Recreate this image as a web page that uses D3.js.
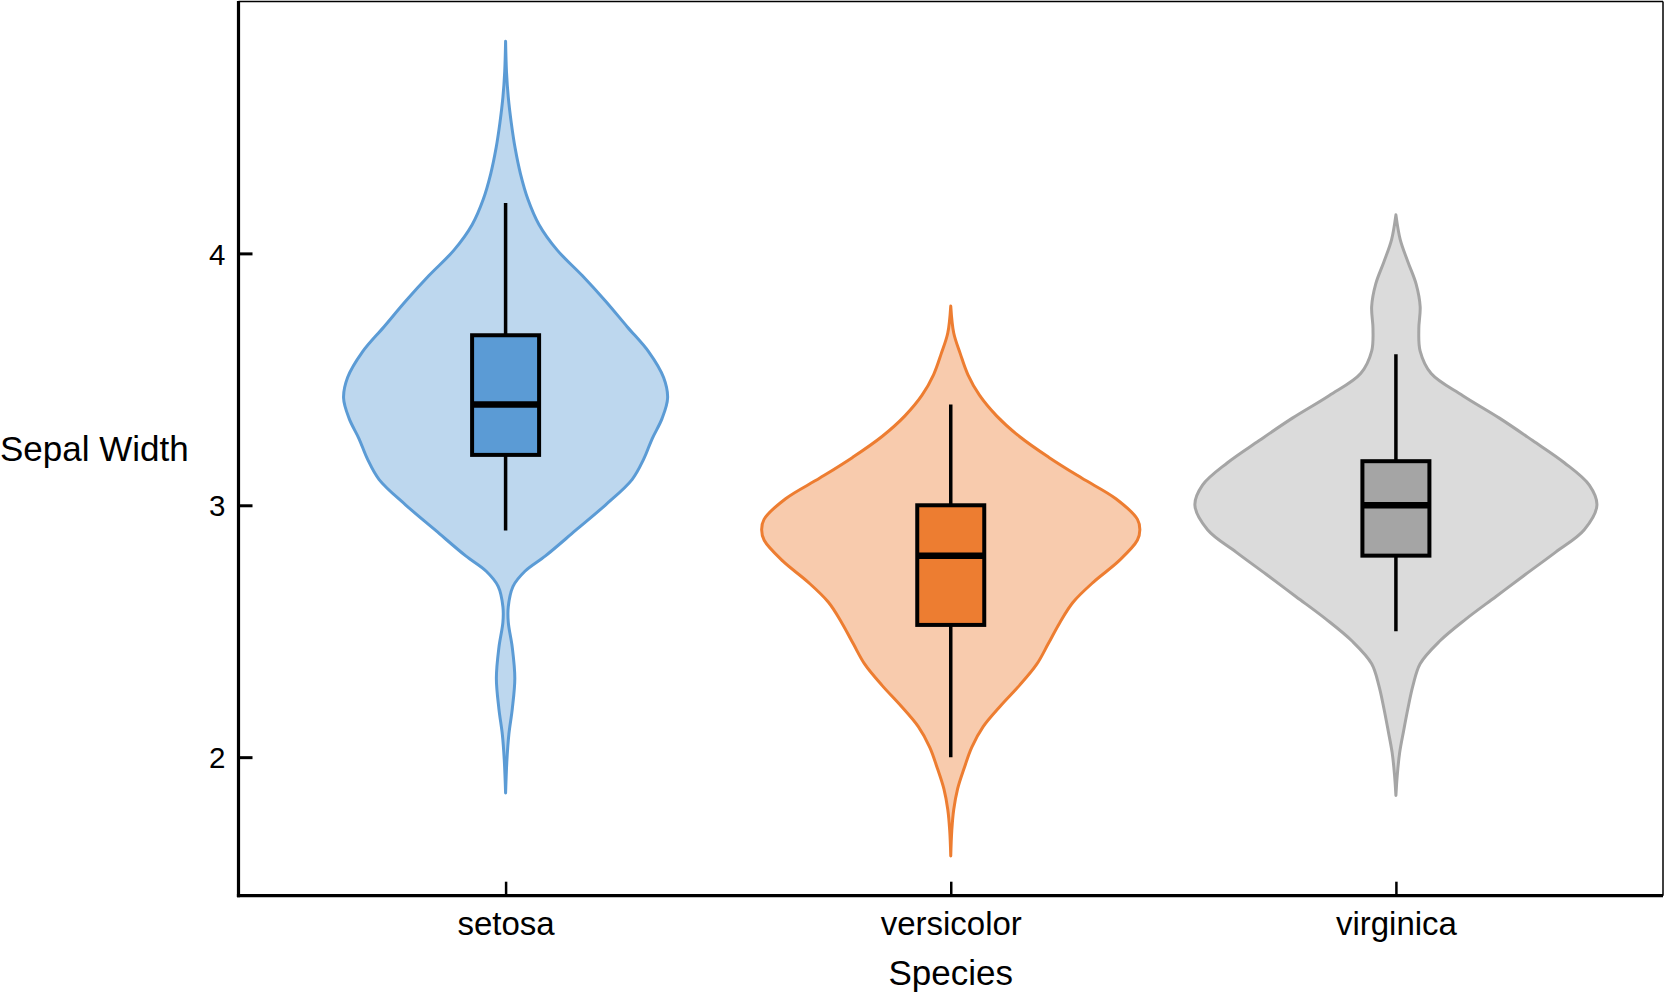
<!DOCTYPE html>
<html>
<head>
<meta charset="utf-8">
<script src="https://cdn.jsdelivr.net/npm/d3@7"></script>
<style>
  html, body { margin: 0; padding: 0; background: #fff; }
  svg { display: block; font-family: "Liberation Sans", Arial, Helvetica, sans-serif; }
</style>
</head>
<body>
<svg id="chart" width="1665" height="994"></svg>
<script>
// ---------------- data ----------------
const categories = ["setosa", "versicolor", "virginica"];
const yTicks = [2, 3, 4];
const yDomain = [1.45, 5.0];
const xTitle = "Species";
const yTitle = "Sepal Width";

// box-plot statistics: [whiskerLow, Q1, median, Q3, whiskerHigh]
const setosaBox     = [2.9, 3.2, 3.4, 3.675, 4.2];
const versicolorBox = [2.0, 2.525, 2.8, 3.0, 3.4];
const virginicaBox  = [2.5, 2.8, 3.0, 3.175, 3.6];

// violin density profiles: [value, density]
const setosaDensity = [
  [4.842,0],[4.721,0.006],[4.620,0.018],[4.519,0.038],[4.418,0.064],[4.316,0.100],
  [4.215,0.150],[4.114,0.225],[4.013,0.347],[3.912,0.515],[3.811,0.671],[3.709,0.817],
  [3.609,0.962],[3.507,1.062],[3.426,1.089],[3.345,1.052],[3.264,0.985],[3.183,0.928],
  [3.102,0.850],[3.001,0.671],[2.900,0.470],[2.799,0.268],[2.738,0.130],[2.678,0.050],
  [2.597,0.018],[2.536,0.018],[2.435,0.045],[2.313,0.062],[2.192,0.045],[2.091,0.022],
  [1.990,0.009],[1.858,0]
];
const versicolorDensity = [
  [3.791,0],[3.684,0.020],[3.602,0.064],[3.519,0.115],[3.437,0.193],[3.355,0.308],
  [3.273,0.462],[3.190,0.660],[3.108,0.880],[3.026,1.110],[2.944,1.255],[2.903,1.271],
  [2.861,1.254],[2.779,1.130],[2.697,0.963],[2.615,0.822],[2.533,0.732],[2.450,0.655],
  [2.368,0.577],[2.285,0.462],[2.203,0.334],[2.121,0.218],[2.039,0.141],[1.956,0.090],
  [1.874,0.046],[1.792,0.020],[1.709,0.007],[1.608,0]
];
const virginicaDensity = [
  [4.153,0],[4.055,0.029],[3.966,0.081],[3.878,0.136],[3.789,0.163],[3.701,0.154],
  [3.612,0.163],[3.523,0.237],[3.435,0.450],[3.346,0.696],[3.257,0.919],[3.169,1.132],
  [3.080,1.300],[3.000,1.351],[2.903,1.266],[2.814,1.074],[2.726,0.872],[2.637,0.671],
  [2.548,0.470],[2.460,0.293],[2.371,0.163],[2.283,0.114],[2.194,0.081],[2.105,0.052],
  [2.017,0.025],[1.928,0.009],[1.848,0]
];

const boxes = [setosaBox, versicolorBox, virginicaBox];
const densities = [setosaDensity, versicolorDensity, virginicaDensity];
const lineColors = ["#5b9bd5", "#ed7d31", "#a5a5a5"];
const fillColors = ["#bdd7ee", "#f8cbad", "#dbdbdb"];

// ---------------- layout ----------------
const svg = d3.select("#chart");
const L = 238.5, R = 1663, T = 1.5, B = 895.7;

const x = d3.scalePoint().domain(categories).range([L, R]).padding(0.6);
const y = d3.scaleLinear().domain(yDomain).range([B, T]);
const maxDens = d3.max(densities.flat(), d => d[1]);
const w = d3.scaleLinear().domain([0, maxDens]).range([0, 201]);

// frame (thin top/right)
svg.append("line").attr("x1", L).attr("x2", R).attr("y1", T).attr("y2", T)
  .attr("stroke", "#000").attr("stroke-width", 1.5);
svg.append("line").attr("x1", R).attr("x2", R).attr("y1", T).attr("y2", B)
  .attr("stroke", "#000").attr("stroke-width", 1.5);

// violins
const plot = svg.append("g");
categories.forEach((c, i) => {
  const cx = x(c);
  const area = d3.area()
    .y(d => y(d[0]))
    .x0(d => cx - w(d[1]))
    .x1(d => cx + w(d[1]))
    .curve(d3.curveCatmullRom.alpha(0.5));
  plot.append("path")
    .datum(densities[i])
    .attr("d", area)
    .attr("fill", fillColors[i])
    .attr("stroke", lineColors[i])
    .attr("stroke-width", 3)
    .attr("stroke-linejoin", "round");

  const b = boxes[i];
  const bw = 67;
  plot.append("line")
    .attr("x1", cx).attr("x2", cx)
    .attr("y1", y(b[0])).attr("y2", y(b[4]))
    .attr("stroke", "#000").attr("stroke-width", 3.5);
  plot.append("rect")
    .attr("x", cx - bw / 2).attr("width", bw)
    .attr("y", y(b[3])).attr("height", y(b[1]) - y(b[3]))
    .attr("fill", lineColors[i])
    .attr("stroke", "#000").attr("stroke-width", 4);
  plot.append("line")
    .attr("x1", cx - bw / 2).attr("x2", cx + bw / 2)
    .attr("y1", y(b[2])).attr("y2", y(b[2]))
    .attr("stroke", "#000").attr("stroke-width", 6.5);
});

// y axis
const yAxis = svg.append("g")
  .attr("transform", `translate(${L},0)`)
  .call(d3.axisLeft(y).tickValues(yTicks).tickFormat(d3.format("d")).tickSize(-14).tickPadding(13));
yAxis.select(".domain").remove();
yAxis.append("line").attr("x1", 0).attr("x2", 0).attr("y1", T - 0.5).attr("y2", B + 1.5)
  .attr("stroke", "#000").attr("stroke-width", 3.2);
yAxis.selectAll(".tick line").attr("stroke", "#000").attr("stroke-width", 3);
yAxis.selectAll(".tick text")
  .attr("fill", "#000").attr("font-size", 29.5)
  .attr("font-family", "'Liberation Sans', Arial, sans-serif")
  .attr("dy", "0.36em");

// x axis
const xAxis = svg.append("g")
  .attr("transform", `translate(0,${B})`)
  .call(d3.axisBottom(x).tickSize(-14).tickPadding(0));
xAxis.select(".domain").remove();
xAxis.append("line").attr("x1", L - 1.6).attr("x2", R).attr("y1", 0).attr("y2", 0)
  .attr("stroke", "#000").attr("stroke-width", 3.3);
xAxis.selectAll(".tick line").attr("stroke", "#000").attr("stroke-width", 2.5);
xAxis.selectAll(".tick text")
  .attr("fill", "#000").attr("font-size", 33)
  .attr("font-family", "'Liberation Sans', Arial, sans-serif")
  .attr("y", 39.5).attr("dy", 0);

// titles
svg.append("text")
  .attr("x", 0).attr("y", (T + B) / 2 + 12.5)
  .attr("font-size", 35).attr("fill", "#000")
  .text(yTitle);
svg.append("text")
  .attr("x", x(categories[1])).attr("y", 985)
  .attr("text-anchor", "middle")
  .attr("font-size", 35).attr("fill", "#000")
  .text(xTitle);
</script>
</body>
</html>
